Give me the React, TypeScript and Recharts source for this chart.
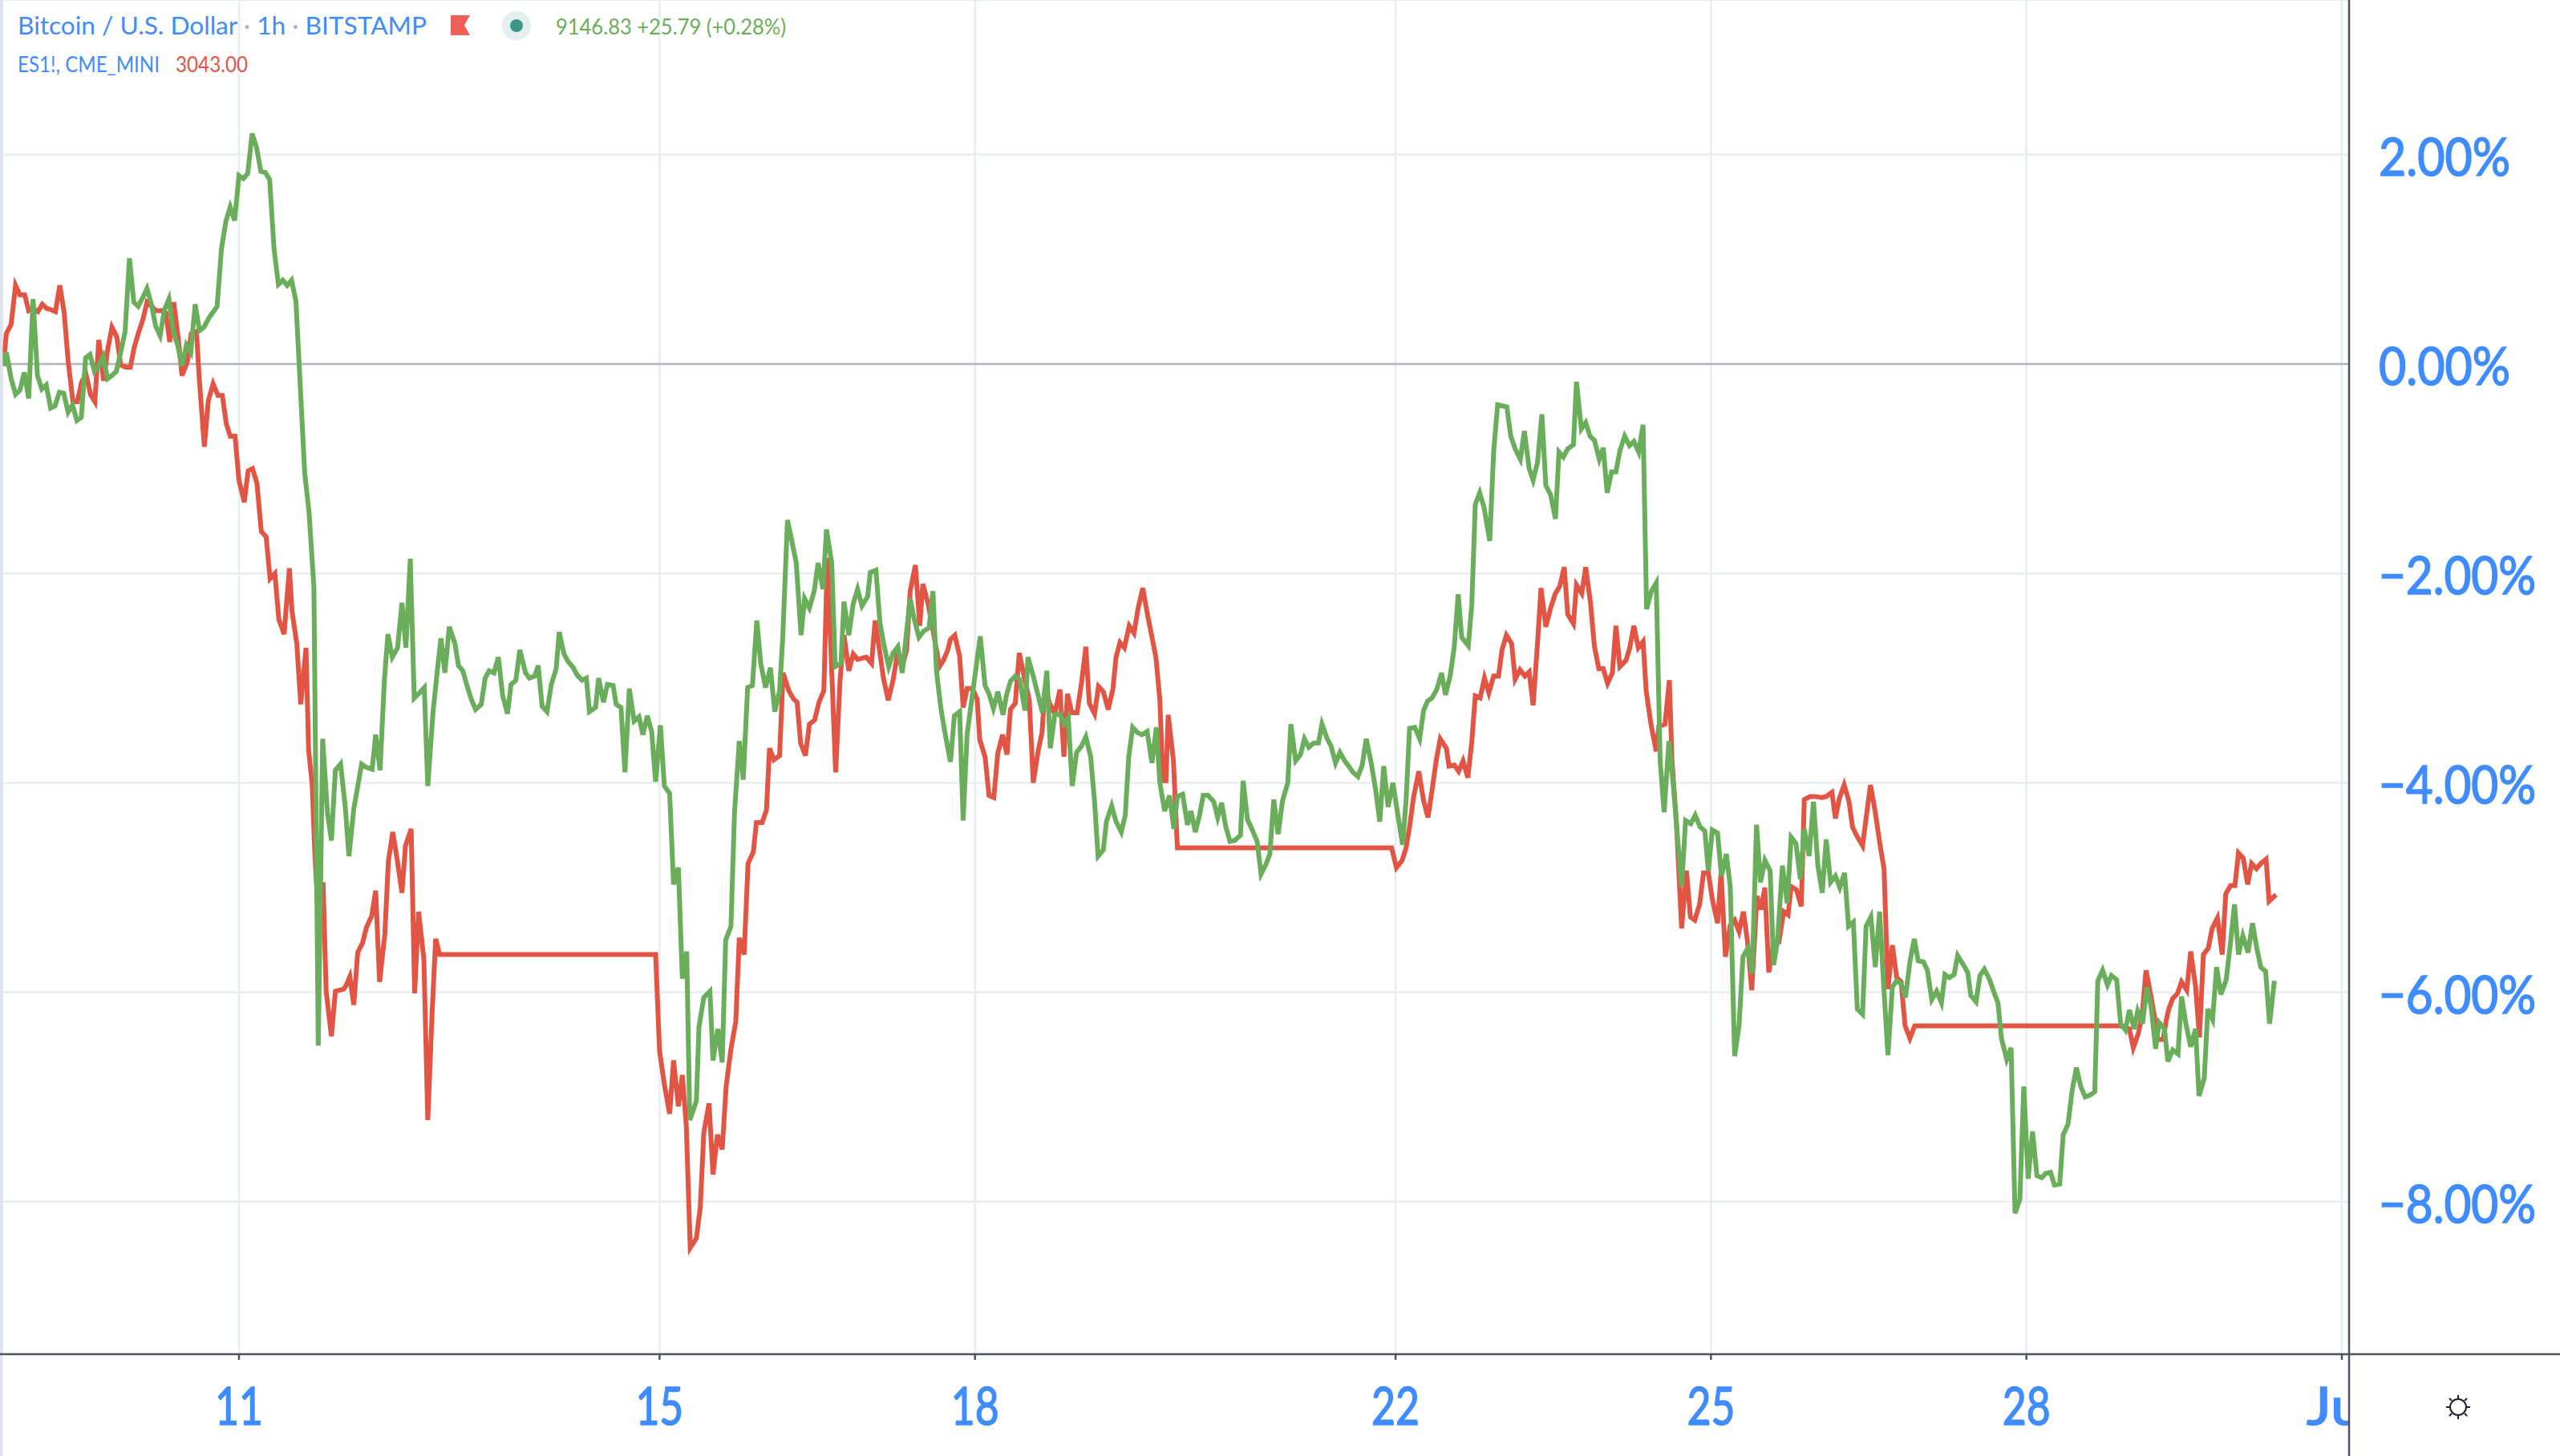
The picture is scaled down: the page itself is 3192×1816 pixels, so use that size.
import React from 'react';
import { LineChart, Line, XAxis, YAxis, CartesianGrid, ReferenceLine } from 'recharts';

// x = hours since 11 June 00:00, y = percent change, both
const btcPoints: [number, number][] = [
  [-53.7,-0.02],[-53.1,0.11],[-52,-0.14],[-51,-0.29],[-50,-0.25],[-49,-0.08],[-48,-0.33],[-47,0.62],[-46,-0.11],[-45,-0.24],
  [-44,-0.20],[-43,-0.42],[-42,-0.40],[-41,-0.27],[-40,-0.28],[-39,-0.46],[-38,-0.39],[-37,-0.54],[-36,-0.51],[-35,0.06],
  [-34,0.09],[-33,-0.07],[-32,-0.02],[-31,0.07],[-30,-0.14],[-29,-0.11],[-28,-0.07],[-27,0.11],[-26,0.31],[-25,1.01],
  [-24,0.59],[-23,0.55],[-22,0.63],[-21,0.72],[-20,0.57],[-19,0.36],[-18,0.27],[-17,0.52],[-16,0.62],[-15,0.31],
  [-14,0.18],[-13,-0.02],[-12,0.18],[-11,0.11],[-10,0.57],[-9,0.32],[-8,0.35],[-7,0.43],[-6,0.49],[-5,0.55],
  [-4,1.10],[-3,1.36],[-2,1.50],[-1,1.37],[0,1.80],[1,1.77],[2,1.82],[3,2.20],[4,2.07],[5,1.84],
  [6,1.83],[7,1.76],[8,1.10],[9,0.76],[10,0.80],[11,0.75],[12,0.80],[13,0.60],[14,-0.22],[15,-1.04],
  [16,-1.42],[17.1,-2.13],[18.1,-6.51],[19.1,-3.58],[20.2,-4.29],[21.1,-4.55],[22,-3.88],[23.2,-3.82],[24.3,-4.25],[25.1,-4.70],
  [26.2,-4.25],[27,-4.06],[28,-3.82],[29,-3.85],[30.4,-3.87],[31.2,-3.54],[32.2,-3.88],[33.2,-3.01],[34,-2.58],[35,-2.80],
  [36.2,-2.71],[37.2,-2.28],[38.1,-2.71],[39.1,-1.86],[40,-3.19],[41.2,-3.14],[42.3,-3.09],[43.1,-4.03],[44.3,-3.32],[45.4,-2.88],
  [46.1,-2.62],[47,-2.95],[48,-2.51],[49.3,-2.67],[50.1,-2.88],[51.1,-2.93],[52.1,-3.08],[53.1,-3.21],[54,-3.30],[55.3,-3.25],
  [56.2,-3.0],[57.1,-2.93],[58.2,-2.95],[59.2,-2.80],[60.2,-3.17],[61.3,-3.34],[62.1,-3.06],[63.2,-3.02],[64.1,-2.73],[65.4,-2.95],
  [66.3,-3.0],[67.5,-2.98],[68.3,-2.88],[69.2,-3.27],[70.3,-3.32],[71.3,-3.06],[72.4,-2.91],[73.1,-2.56],[74.2,-2.77],[75.1,-2.84],
  [76.3,-2.90],[77.2,-2.97],[78.3,-3.02],[79.3,-3.0],[80,-3.32],[81.4,-3.28],[82.1,-3.0],[83.2,-3.23],[84.1,-3.06],[85.4,-3.07],
  [86.1,-3.25],[87.2,-3.28],[88.1,-3.90],[89.1,-3.10],[90.2,-3.41],[91.3,-3.37],[92.2,-3.54],[93.2,-3.36],[94.2,-3.51],[95.1,-3.99],
  [96.2,-3.45],[97.1,-4.03],[98.3,-4.10],[99.2,-4.97],[100.3,-4.81],[101.2,-5.87],[102.2,-5.61],[102.9,-7.22],[104.4,-7.04],[105,-6.33],
  [106.1,-6.05],[107.5,-5.99],[108.2,-6.65],[109.3,-6.35],[110.3,-6.67],[111.1,-5.50],[112.3,-5.37],[113.1,-4.29],[114.2,-3.60],[115.1,-3.97],
  [116.1,-3.09],[117.2,-3.07],[118.2,-2.45],[119.1,-2.86],[120.2,-3.09],[121.3,-2.90],[122.3,-3.32],[123.4,-3.12],[124.1,-2.63],[125.2,-1.49],
  [126.2,-1.69],[127.2,-1.90],[128.3,-2.59],[129.1,-2.24],[130.2,-2.33],[131.3,-2.17],[132.2,-1.90],[133.3,-2.15],[134.1,-1.58],[135.3,-1.90],
  [136.1,-2.89],[137.4,-2.86],[138.1,-2.27],[139.2,-2.59],[140.2,-2.29],[141.2,-2.15],[142.2,-2.31],[143.5,-2.22],[144.1,-1.99],[145.4,-1.97],
  [146.3,-2.47],[147.2,-2.68],[148.3,-2.89],[149.3,-2.76],[150.4,-2.70],[151.4,-2.95],[152.3,-2.59],[153.2,-2.24],[154.1,-2.43],[155.2,-2.61],
  [156.3,-2.55],[157.5,-2.52],[158.4,-2.17],[159.2,-2.93],[160.2,-3.28],[161.1,-3.51],[162.4,-3.80],[163.3,-3.36],[164.5,-3.32],[165.3,-4.36],
  [166.2,-3.54],[167.5,-3.13],[169.2,-2.60],[170.3,-3.07],[171.2,-3.15],[172.2,-3.29],[173.2,-3.13],[174.4,-3.35],[175.2,-3.16],[176.1,-3.03],
  [177.2,-2.98],[178.2,-3.01],[179.4,-3.31],[180.1,-2.80],[181.3,-2.98],[182.2,-3.13],[183.4,-3.33],[184.4,-2.93],[185.2,-3.67],[186.2,-3.35],
  [187.4,-3.34],[188.3,-3.44],[189.3,-3.38],[190.2,-4.03],[191.2,-3.71],[192.3,-3.65],[193.3,-3.56],[194.4,-3.75],[195.3,-4.18],[196.1,-4.70],
  [197.3,-4.64],[198,-4.37],[199.2,-4.22],[200.2,-4.37],[201.4,-4.47],[202.3,-4.31],[203.1,-3.75],[204,-3.47],[205.1,-3.52],[206.1,-3.54],
  [207.3,-3.51],[208.4,-3.81],[209.4,-3.47],[210.2,-4.0],[211.3,-4.27],[212.4,-4.12],[213.4,-4.44],[214.2,-4.13],[215.4,-4.11],[216.5,-4.40],
  [217.3,-4.27],[218.3,-4.47],[219.3,-4.30],[220.1,-4.12],[221.2,-4.12],[222.5,-4.18],[223.4,-4.33],[224.3,-4.19],[225.2,-4.41],[226.2,-4.56],
  [227.3,-4.55],[228.6,-4.50],[229.2,-3.98],[230.2,-4.35],[231.3,-4.45],[232.4,-4.56],[233.3,-4.87],[234.4,-4.78],[235.3,-4.68],[236.2,-4.16],
  [237.2,-4.49],[238.2,-4.17],[239.4,-4.0],[240.1,-3.44],[241.2,-3.79],[242.3,-3.73],[243.2,-3.58],[244.2,-3.66],[245.3,-3.62],[246.4,-3.62],
  [247.2,-3.44],[248.4,-3.58],[249.3,-3.65],[250.3,-3.81],[251.3,-3.71],[252.4,-3.79],[253.3,-3.84],[254.3,-3.90],[255.4,-3.94],[256.4,-3.83],
  [257.3,-3.58],[258.4,-3.80],[259.4,-4.05],[260.4,-4.37],[261.3,-3.84],[262.3,-4.23],[263.4,-4.0],[264.5,-4.30],[265.6,-4.59],[266.4,-4.17],
  [267.2,-3.48],[268.4,-3.47],[269.5,-3.58],[270.4,-3.31],[271.3,-3.22],[272.3,-3.19],[273.4,-3.11],[274.5,-2.95],[275.4,-3.16],[276.5,-2.97],
  [277.4,-2.70],[278.3,-2.20],[279.1,-2.61],[280.6,-2.69],[281.4,-2.30],[282.2,-1.34],[283.2,-1.23],[284.2,-1.37],[285.5,-1.69],[286.4,-0.83],
  [287.3,-0.39],[288.4,-0.40],[289.4,-0.41],[290.3,-0.69],[291.3,-0.81],[292.5,-0.91],[293.4,-0.64],[294.5,-1.0],[295.4,-1.11],[296.4,-0.94],
  [297.4,-0.48],[298.3,-1.16],[299.4,-1.25],[300.5,-1.48],[301.3,-0.84],[302.3,-0.89],[303.3,-0.81],[304.6,-0.77],[305.3,-0.17],[306.4,-0.62],
  [307.4,-0.56],[308.4,-0.69],[309.4,-0.73],[310.5,-0.91],[311.4,-0.80],[312.3,-1.23],[313.3,-1.03],[314.3,-1.03],[315.2,-0.83],[316.3,-0.69],
  [317.4,-0.78],[318.4,-0.74],[319.5,-0.84],[320.5,-0.58],[321.3,-2.34],[322.4,-2.17],[323.5,-2.09],[324.4,-3.79],[325.3,-4.28],[326.4,-3.60],
  [327.4,-4.02],[328.4,-4.54],[329.3,-4.99],[330.2,-4.36],[331.4,-4.39],[332.4,-4.31],[333.5,-4.42],[334.6,-4.46],[335.4,-4.84],[336.3,-4.45],
  [337.5,-4.48],[338.4,-4.89],[339.5,-4.68],[340.4,-4.99],[341.4,-6.61],[342.4,-6.32],[343.3,-5.66],[344.4,-5.58],[345.4,-5.82],[346.4,-4.40],
  [347.3,-4.95],[348.3,-4.74],[349.5,-4.84],[350.3,-5.74],[351.2,-5.50],[352.3,-4.79],[353.4,-5.15],[354.3,-4.52],[355.4,-4.58],[356.4,-4.92],
  [357.3,-4.44],[358.4,-4.70],[359.4,-4.18],[360.4,-4.79],[361.4,-5.05],[362.3,-4.54],[363.3,-4.95],[364.4,-4.89],[365.4,-5.0],[366.5,-4.86],
  [367.4,-5.37],[368.5,-5.33],[369.4,-6.16],[370.6,-6.21],[371.4,-5.37],[372.5,-5.28],[373.5,-5.76],[374.5,-5.23],[375.4,-5.92],[376.4,-6.60],
  [377.4,-5.95],[378.4,-5.89],[379.4,-5.92],[380.4,-6.05],[381.4,-5.71],[382.4,-5.49],[383.3,-5.70],[384.5,-5.71],[385.4,-5.79],[386.4,-6.07],
  [387.5,-5.99],[388.6,-6.10],[389.4,-5.83],[390.4,-5.86],[391.5,-5.83],[392.3,-5.65],[393.5,-5.73],[394.6,-5.81],[395.3,-6.03],[396.5,-6.09],
  [397.4,-5.84],[398.4,-5.78],[399.6,-5.88],[400.6,-6.0],[401.5,-6.10],[402.3,-6.44],[403.5,-6.64],[404.5,-6.53],[405.4,-8.11],[406.5,-7.98],
  [407.4,-6.90],[408.4,-7.78],[409.4,-7.33],[410.4,-7.75],[411.5,-7.77],[412.4,-7.73],[413.5,-7.72],[414.4,-7.84],[415.6,-7.83],[416.4,-7.36],
  [417.5,-7.26],[418.4,-6.95],[419.4,-6.72],[420.4,-6.90],[421.4,-7.0],[422.6,-6.98],[423.6,-6.95],[424.3,-5.89],[425.4,-5.79],[426.5,-5.93],
  [427.4,-5.84],[428.6,-5.88],[429.5,-6.30],[430.6,-6.36],[431.5,-6.17],[432.6,-6.35],[433.4,-6.18],[434.5,-6.30],[435.5,-5.95],[436.5,-6.15],
  [437.5,-6.54],[438.3,-6.29],[439.5,-6.35],[440.3,-6.66],[441.4,-6.55],[442.6,-6.59],[443.4,-6.04],[444.4,-6.30],[445.5,-6.52],[446.6,-6.35],
  [447.4,-6.99],[448.6,-6.82],[449.4,-6.16],[450.5,-6.26],[451.4,-5.76],[452.4,-6.02],[453.6,-5.88],[454.5,-5.56],[455.5,-5.16],[456.4,-5.64],
  [457.4,-5.46],[458.6,-5.62],[459.6,-5.34],[460.6,-5.58],[461.5,-5.76],[462.6,-5.80],[463.5,-6.30],[464.6,-5.89],
];

const esPoints: [number, number][] = [
  [-53.7,0.03],[-53.1,0.29],[-52,0.38],[-51,0.75],[-50,0.66],[-48.9,0.66],[-48,0.51],[-47,0.53],[-45.9,0.50],[-44.9,0.57],
  [-43.9,0.53],[-43,0.52],[-41.9,0.50],[-40.9,0.75],[-39.9,0.49],[-39,0.03],[-37.9,-0.36],[-36.9,-0.36],[-35.9,-0.17],[-34.9,-0.10],
  [-33.9,-0.29],[-32.9,-0.36],[-32,0.23],[-30.9,-0.16],[-30,0.13],[-29,0.35],[-27.9,0.26],[-27,-0.01],[-25.9,-0.03],[-24.8,-0.03],
  [-23.9,0.16],[-23,0.29],[-21.9,0.43],[-21,0.59],[-19.9,0.55],[-18.9,0.51],[-17.6,0.51],[-16.7,0.49],[-15.8,0.21],[-14.9,0.59],
  [-13.9,0.26],[-13,-0.11],[-11.8,0.02],[-10.9,0.29],[-9.7,0.31],[-9.1,-0.12],[-7.9,-0.79],[-7,-0.35],[-5.9,-0.19],[-4.8,-0.30],
  [-3.8,-0.30],[-2.9,-0.57],[-2,-0.69],[-0.9,-0.69],[0,-1.11],[1.2,-1.32],[2.1,-1.02],[3.1,-1.0],[4.1,-1.14],[5.1,-1.60],
  [6.2,-1.65],[7.1,-2.05],[8.2,-2.0],[9.1,-2.44],[10.3,-2.58],[11.5,-1.95],[12.1,-2.36],[13.2,-2.67],[14.1,-3.25],[15.3,-2.71],
  [15.9,-3.69],[16.7,-4.01],[17.3,-4.66],[18,-5.2],[19.2,-4.95],[19.9,-5.99],[21.1,-6.42],[22,-5.99],[23.9,-5.97],[24.4,-5.94],
  [25.3,-5.85],[26.2,-6.12],[27.1,-5.62],[28.2,-5.53],[29.1,-5.38],[30.3,-5.27],[31.2,-5.03],[32.1,-5.90],[33.3,-5.44],[34.1,-4.75],
  [35.1,-4.47],[36.1,-4.73],[37.2,-5.05],[38,-4.60],[39.3,-4.44],[40.1,-6.01],[41,-5.23],[42.2,-5.68],[43.1,-7.22],[44.1,-6.18],
  [44.9,-5.49],[45.8,-5.64],[95.1,-5.64],[96,-6.56],[97.1,-6.88],[98.3,-7.16],[99.2,-6.65],[100.3,-7.09],[101.2,-6.79],[102.1,-7.27],
  [103,-8.44],[104.4,-8.35],[105.3,-8.05],[106.1,-7.34],[107.3,-7.06],[108.2,-7.74],[109.2,-7.36],[110.3,-7.50],[111.2,-6.90],[112.3,-6.54],
  [113.4,-6.28],[114.2,-5.48],[115.3,-5.64],[116.2,-4.77],[117.4,-4.66],[118.1,-4.38],[119.4,-4.38],[120.4,-4.26],[121.1,-3.67],[122.1,-3.78],
  [123.4,-3.74],[124.2,-2.95],[125.5,-3.12],[126.6,-3.20],[127.4,-3.23],[128.2,-3.62],[129.3,-3.74],[130.2,-3.44],[131.4,-3.40],[132.4,-3.23],
  [133.5,-3.12],[134.3,-1.85],[136.2,-3.90],[137.2,-3.02],[138.1,-2.59],[139.2,-2.93],[140.2,-2.77],[141.2,-2.82],[143.2,-2.80],[144.4,-2.86],
  [145.2,-2.45],[146.2,-2.73],[147.1,-3.0],[148.2,-3.21],[149.3,-3.02],[150.2,-2.79],[151.4,-2.89],[152.4,-2.73],[153.2,-2.17],[154.4,-1.92],
  [155.4,-2.50],[156.1,-2.10],[157.3,-2.29],[158.4,-2.54],[159.9,-2.89],[160.8,-2.83],[161.8,-2.73],[162.4,-2.63],[163.4,-2.59],[164.5,-2.79],
  [165.3,-3.28],[166.2,-3.10],[167.4,-3.10],[168.5,-3.20],[169.1,-3.59],[170.3,-3.75],[171.2,-4.12],[172.3,-4.14],[173.2,-3.72],[174.3,-3.54],
  [175.3,-3.73],[176.1,-3.30],[177.2,-3.24],[178.1,-2.76],[179.3,-3.0],[180.4,-3.21],[181.3,-4.0],[182.4,-3.70],[183.3,-3.52],[184,-3.08],
  [185,-3.24],[186.2,-3.34],[187.4,-3.11],[188.3,-3.75],[189.1,-3.15],[190.1,-3.33],[191.3,-3.33],[192.4,-3.02],[193.3,-2.70],[194.1,-3.24],
  [195.3,-3.34],[196.2,-3.08],[197.3,-3.13],[198.4,-3.30],[199.5,-3.10],[200.2,-2.80],[201.1,-2.66],[202.1,-2.71],[203.2,-2.50],[204.3,-2.57],
  [205.2,-2.34],[206.3,-2.14],[207.5,-2.42],[209.3,-2.80],[210.2,-3.21],[210.9,-3.98],[211.6,-3.98],[212.1,-3.35],[213.3,-3.79],[214.2,-4.62],
  [263.1,-4.62],[264.2,-4.81],[265.5,-4.74],[266.4,-4.62],[267.2,-4.42],[268.1,-4.14],[269.3,-3.89],[270.4,-4.17],[271.4,-4.33],[272.4,-4.05],
  [273.3,-3.78],[274.2,-3.58],[275.6,-3.67],[276.2,-3.84],[277.4,-3.83],[278.4,-3.89],[279.4,-3.79],[280.5,-3.95],[281.4,-3.61],[282.2,-3.17],
  [283.3,-3.19],[284.3,-3.0],[285.3,-3.14],[286.4,-2.98],[287.5,-2.98],[288.3,-2.73],[289.3,-2.59],[290.5,-2.67],[291.3,-3.01],[292.4,-2.92],
  [293.5,-2.98],[294.5,-2.94],[295.4,-3.26],[296.4,-2.67],[297.2,-2.14],[298.3,-2.51],[299.4,-2.33],[300.4,-2.20],[301.5,-2.12],[302.5,-1.94],
  [303.3,-2.39],[304.6,-2.48],[305.3,-2.11],[306.5,-2.19],[307.4,-1.94],[308.5,-2.28],[309.4,-2.70],[310.4,-2.91],[311.4,-2.91],[312.4,-3.05],
  [313.5,-2.95],[314.3,-2.5],[315.2,-2.89],[316.6,-2.83],[317.4,-2.72],[318.4,-2.5],[319.4,-2.71],[320.5,-2.65],[321.2,-3.12],[322.3,-3.44],
  [323.5,-3.70],[324.1,-3.46],[325.5,-3.44],[326.5,-3.02],[327.1,-3.79],[328.1,-4.37],[329.3,-5.39],[330.4,-4.84],[331.3,-5.28],[332.3,-5.31],
  [333.4,-5.16],[334.3,-4.86],[335.4,-4.86],[336.3,-5.11],[337.5,-5.34],[338.3,-4.86],[339.3,-5.66],[340.4,-5.36],[341.4,-5.31],[342.4,-5.42],
  [343.4,-5.23],[344.3,-5.50],[345.3,-5.98],[346.5,-5.08],[347.4,-5.21],[348.3,-5.0],[349.2,-5.81],[350.3,-5.53],[351.5,-5.52],[352.6,-5.23],
  [353.6,-5.26],[354.3,-4.99],[355.5,-5.02],[356.6,-5.18],[357.3,-4.16],[358.6,-4.13],[359.5,-4.13],[361.4,-4.14],[362.3,-4.13],[363.6,-4.09],
  [364.4,-4.34],[365.3,-4.15],[366.4,-4.02],[367.5,-4.18],[368.3,-4.42],[369.2,-4.50],[370.6,-4.60],[371.4,-4.34],[372.4,-4.02],[373.5,-4.28],
  [374.5,-4.57],[375.5,-4.82],[376.4,-5.97],[377.4,-5.55],[378.4,-5.86],[379.4,-5.90],[380.3,-6.32],[381.4,-6.44],[382.5,-6.32],[429.4,-6.32],
  [431.5,-6.35],[432.4,-6.53],[433.5,-6.40],[434.4,-6.22],[435.3,-5.79],[436.4,-6.03],[437.3,-6.25],[437.9,-6.45],[439.2,-6.45],[440,-6.25],
  [440.5,-6.16],[441.4,-6.06],[442.5,-6.01],[443.4,-5.90],[444.6,-5.98],[445.5,-5.61],[446.6,-5.94],[447.5,-6.43],[448.4,-5.64],[449.5,-5.58],
  [450.4,-5.39],[451.6,-5.29],[452.7,-5.64],[453.5,-5.06],[454.6,-4.98],[455.6,-4.98],[456.4,-4.67],[457.5,-4.72],[458.5,-4.97],[459.4,-4.77],
  [460.5,-4.82],[461.5,-4.77],[462.7,-4.73],[463.4,-5.13],[464.4,-5.09],[465,-5.07],
];

const dayTicks = [0, 96, 168, 264, 336, 408, 480];
const dayLabels = ['11', '15', '18', '22', '25', '28', 'Jul'];
const pctTicks = [2, 0, -2, -4, -6, -8];

const btcRows = btcPoints.map(([h, pct]) => ({ h, pct }));
const esRows = esPoints.map(([h, pct]) => ({ h, pct }));

const BLUE = '#3f8cff';
const GREEN = '#6aae5c';
const RED = '#e25544';
const AXIS = '#50535e';
const TICK_FONT = 'Lato, sans-serif';

const DayTick = ({ x, payload }: any) => {
  const label = dayLabels[dayTicks.indexOf(payload.value)];
  return (
    <text x={x} y={1777} textAnchor="middle" fill={BLUE} stroke={BLUE} strokeWidth={1.6} fontFamily={TICK_FONT} fontSize={66}
      textLength={label === 'Jul' ? 88 : 60} lengthAdjust="spacingAndGlyphs">
      {label}
    </text>
  );
};

const PctTick = ({ y, payload }: any) => {
  const v = payload.value as number;
  const label = (v < 0 ? '\u2212' : '') + Math.abs(v).toFixed(2) + '%';
  return (
    <text x={2966} y={y + 26} textAnchor="start" fill={BLUE} stroke={BLUE} strokeWidth={1.6} fontFamily={TICK_FONT} fontSize={66}
      textLength={v < 0 ? 196 : 164} lengthAdjust="spacingAndGlyphs">
      {label}
    </text>
  );
};

const Legend2 = () => (
  <g fontFamily={TICK_FONT} fontSize={31}>
    <text x={22} y={43} fill={BLUE} textLength={510} lengthAdjust="spacingAndGlyphs">
      Bitcoin / U.S. Dollar <tspan fill="#aab0bb">·</tspan> 1h <tspan fill="#aab0bb">·</tspan> BITSTAMP
    </text>
    <path d="M562 19 H586 L579 31.5 L586 44 H562 Z" fill="#ef5f59" />
    <circle cx={644} cy={32} r={18} fill="#e3f0ee" />
    <circle cx={644} cy={32} r={8} fill="#3e9688" />
    <text x={693} y={43} fill={GREEN} fontSize={27} textLength={287} lengthAdjust="spacingAndGlyphs">
      9146.83 +25.79 (+0.28%)
    </text>
    <text x={22} y={90} fill={BLUE} fontSize={27} textLength={177} lengthAdjust="spacingAndGlyphs">ES1!, CME_MINI</text>
    <text x={219} y={90} fill={RED} fontSize={27} textLength={90} lengthAdjust="spacingAndGlyphs">3043.00</text>
  </g>
);

const SunIcon = () => (
  <g transform="translate(3065 1755)" stroke="#1e222d" strokeWidth={2} fill="none">
    <circle r={10} />
    <path d="M0 -15 V-10 M0 10 V15 M-15 0 H-10 M10 0 H15 M-11 -11 L-8 -8 M11 -11 L8 -8 M-11 11 L-8 8 M11 11 L8 8" />
  </g>
);

export default function App() {
  return (
    <div style={{ position: 'absolute', left: 0, top: 0, width: 3192, height: 1816, overflow: 'hidden', background: '#fff' }}>
      <LineChart width={3192} height={1816} margin={{ top: 0, right: 0, bottom: 0, left: 3 }}>
        <CartesianGrid stroke="#e6eef3" strokeWidth={2.5} />
        <XAxis
          dataKey="h"
          type="number"
          domain={[-54, 481.65]}
          ticks={dayTicks}
          allowDataOverflow
          height={127}
          tick={<DayTick />}
          tickSize={7}
          tickLine={{ stroke: AXIS, strokeWidth: 2.5 }}
          axisLine={false}
          interval={0}
        />
        <YAxis
          orientation="right"
          type="number"
          domain={[-9.456, 3.476]}
          ticks={pctTicks}
          allowDataOverflow
          width={263}
          tick={<PctTick />}
          tickLine={false}
          axisLine={false}
          interval={0}
        />
        <ReferenceLine y={0} stroke="#b2b5be" strokeWidth={2.5} />
        <Line data={esRows} dataKey="pct" type="linear" stroke={RED} strokeWidth={6} dot={false} isAnimationActive={false} />
        <Line data={btcRows} dataKey="pct" type="linear" stroke={GREEN} strokeWidth={6} dot={false} isAnimationActive={false} />
      </LineChart>
      <svg width={3192} height={1816} style={{ position: 'absolute', left: 0, top: 0, pointerEvents: 'none' }}>
        <rect x={0} y={0} width={3.5} height={1816} fill="#e0e3eb" />
        <rect x={2930} y={1691} width={262} height={125} fill="#fff" />
        <line x1={0} x2={3192} y1={1689} y2={1689} stroke={AXIS} strokeWidth={2.5} />
        <line x1={2929} x2={2929} y1={0} y2={1816} stroke={AXIS} strokeWidth={2.5} />
        <Legend2 />
        <SunIcon />
      </svg>
    </div>
  );
}
